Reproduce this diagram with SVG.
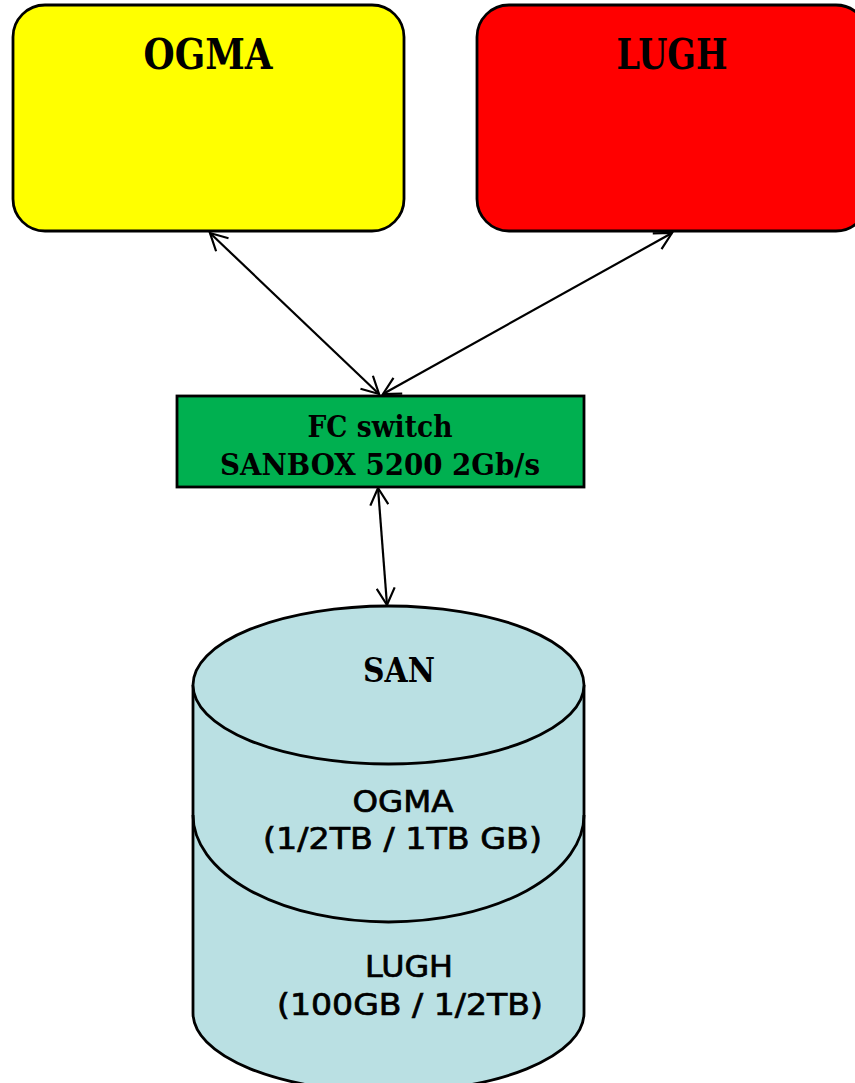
<svg xmlns="http://www.w3.org/2000/svg" width="855" height="1083" viewBox="0 0 855 1083">
<style>
.box{stroke:#000;stroke-width:2.8}
.ser{font-family:"DejaVu Serif","Liberation Serif",serif;font-weight:bold;fill:#000;text-anchor:middle}
.san{font-family:"DejaVu Sans","Liberation Sans",sans-serif;fill:#000;stroke:#000;stroke-width:0.7;text-anchor:middle}
.con{stroke:#000;stroke-width:2.2;fill:none;marker-start:url(#ah);marker-end:url(#ah)}
</style>
<defs>
<marker id="ah" viewBox="-18 -10 20 20" refX="0" refY="0" markerWidth="20" markerHeight="20" markerUnits="userSpaceOnUse" orient="auto-start-reverse">
<path d="M-17,-9 L0,0 L-17,9" fill="none" stroke="#000" stroke-width="2.2"/>
</marker>
</defs>
<rect width="855" height="1083" fill="#fff"/>
<g id="ogma">
<rect class="box" x="13" y="5" width="391" height="226" rx="32" fill="#ffff00"/>
<text class="ser" x="208" y="69" font-size="42" textLength="129" lengthAdjust="spacingAndGlyphs">OGMA</text>
</g>
<g id="lugh">
<rect class="box" x="477" y="5" width="391" height="226" rx="32" fill="#ff0000"/>
<text class="ser" x="672" y="69" font-size="42" textLength="111" lengthAdjust="spacingAndGlyphs">LUGH</text>
</g>
<g id="fcswitch">
<rect class="box" x="177" y="396" width="407" height="91" fill="#00b050"/>
<text class="ser" x="380" y="437" font-size="30" textLength="145" lengthAdjust="spacingAndGlyphs">FC switch</text>
<text class="ser" x="380" y="475" font-size="30" textLength="320" lengthAdjust="spacingAndGlyphs">SANBOX 5200 2Gb/s</text>
</g>
<g id="san">
<path class="box" d="M193,685 L193,1013 A195.5,79 0 0 0 584,1013 L584,685" fill="#bae0e3"/>
<ellipse class="box" cx="388.5" cy="685" rx="195.5" ry="79" fill="#bae0e3"/>
<path class="box" d="M193,815 A195.5,107 0 0 0 584,815" fill="none"/>
<text class="ser" x="399" y="682" font-size="34" textLength="72" lengthAdjust="spacingAndGlyphs">SAN</text>
<text class="san" x="403" y="812" font-size="30" textLength="101" lengthAdjust="spacingAndGlyphs">OGMA</text>
<text class="san" x="402.5" y="849" font-size="30" textLength="279" lengthAdjust="spacingAndGlyphs">(1/2TB / 1TB GB)</text>
<text class="san" x="409" y="977" font-size="30" textLength="88" lengthAdjust="spacingAndGlyphs">LUGH</text>
<text class="san" x="410" y="1015" font-size="30" textLength="266" lengthAdjust="spacingAndGlyphs">(100GB / 1/2TB)</text>
</g>
<g id="connectors">
<line class="con" x1="210" y1="233" x2="379" y2="394"/>
<line class="con" x1="672" y1="233" x2="383" y2="394"/>
<line class="con" x1="378" y1="488" x2="387" y2="605"/>
</g>
</svg>
